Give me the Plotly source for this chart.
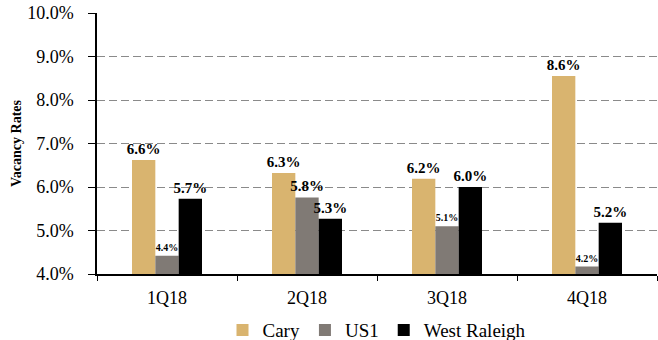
import plotly.graph_objects as go

quarters = ["1Q18", "2Q18", "3Q18", "4Q18"]
cary = [6.62, 6.32, 6.19, 8.55]
us1 = [4.42, 5.76, 5.10, 4.17]
west_raleigh = [5.73, 5.27, 6.00, 5.18]
cary_labels = ["6.6%", "6.3%", "6.2%", "8.6%"]
us1_labels = ["4.4%", "5.8%", "5.1%", "4.2%"]
wr_labels = ["5.7%", "5.3%", "6.0%", "5.2%"]
tick_vals = [4, 5, 6, 7, 8, 9, 10]
tick_text = ["4.0%", "5.0%", "6.0%", "7.0%", "8.0%", "9.0%", "10.0%"]

FONT = "Times New Roman, Liberation Serif, serif"
big, small = 15, 10

def bar(name, vals, labels, color, sizes):
    return go.Bar(
        name=name, x=quarters, y=vals, base=0, marker_color=color,
        marker_line_width=0,
        text=labels, textposition="outside", constraintext="none",
        cliponaxis=False,
        textfont=dict(family=FONT, size=sizes, color="black", weight="bold"),
    )

fig = go.Figure([
    bar("Cary", cary, cary_labels, "#D9B46F", [big] * 4),
    bar("US1", us1, us1_labels, "#807A75", [small, big, small, small]),
    bar("West Raleigh", west_raleigh, wr_labels, "#000000", [big] * 4),
])

fig.update_layout(
    width=658, height=340,
    margin=dict(l=97, r=1, t=13, b=66, autoexpand=False),
    barmode="group", bargap=0.5, bargroupgap=0,
    plot_bgcolor="white", paper_bgcolor="white",
    font=dict(family=FONT, color="black"),
    showlegend=True,
    legend=dict(orientation="h", x=0.5, xanchor="center", y=-0.215, yanchor="middle",
                font=dict(size=19, family=FONT), traceorder="normal"),
    xaxis=dict(
        tickson="boundaries", ticks="outside", ticklen=5, tickcolor="black",
        showline=True, linecolor="black", linewidth=1.5,
        tickfont=dict(size=18, family=FONT), showgrid=False,
        ticklabelstandoff=7,
    ),
    yaxis=dict(
        range=[4, 10], tickmode="array", tickvals=tick_vals, ticktext=tick_text,
        ticks="outside", ticklen=7, tickcolor="black",
        showline=True, linecolor="black", linewidth=1.5,
        showgrid=True, gridcolor="#8A8A8A", griddash="8px,4px", gridwidth=1,
        zeroline=False,
        tickfont=dict(size=18, family=FONT),
        ticklabelstandoff=11,
        title=dict(text="Vacancy Rates", font=dict(size=14, family=FONT, weight="bold"),
                   standoff=2),
    ),
)

fig.write_html("out.html")
